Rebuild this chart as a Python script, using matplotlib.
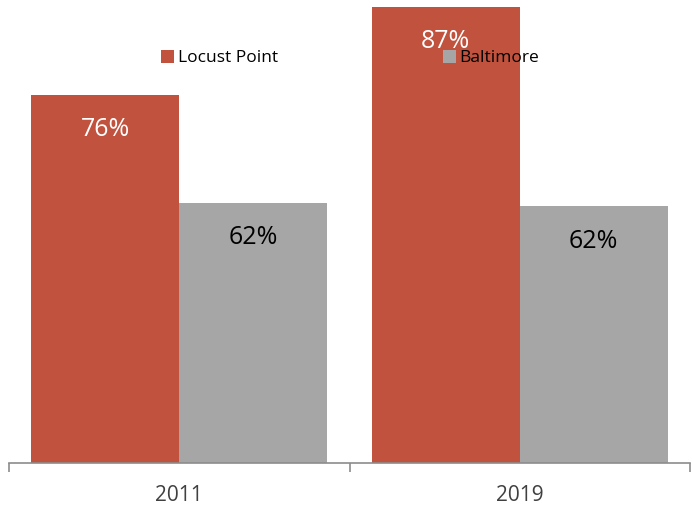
import matplotlib.pyplot as plt
import numpy as np

# data
years = ['2011', '2019']
series = ['Locust Point', 'Baltimore']
locust_point = [76.0, 87.0]
baltimore = [62.5, 62.1]

red = '#C0523E'
grey = '#A6A6A6'

plt.rcParams['font.family'] = ['Open Sans', 'DejaVu Sans']

fig = plt.figure(figsize=(6.92, 5.11), dpi=100)
ax = fig.add_axes([9 / 692, 48 / 511, 681 / 692, 463 / 511])

x = np.arange(len(years))
w = 0.435
b1 = ax.bar(x - w / 2, locust_point, w, color=red, label=series[0])
b2 = ax.bar(x + w / 2, baltimore, w, color=grey, label=series[1])

for rect, v in zip(b1, locust_point):
    ax.annotate(f'{v:.0f}%', (rect.get_x() + rect.get_width() / 2, v),
                xytext=(0, -25), textcoords='offset points',
                ha='center', va='center', fontsize=18, color='white')
for rect, v in zip(b2, baltimore):
    ax.annotate(f'{v:.0f}%', (rect.get_x() + rect.get_width() / 2, v),
                xytext=(0, -25), textcoords='offset points',
                ha='center', va='center', fontsize=18, color='black')

ax.set_xlim(-0.5, 1.5)
ax.set_ylim(30, 87.9)
ax.set_yticks([])
ax.set_xticks(x)
ax.set_xticklabels(years, fontsize=15, color='#404040')
ax.set_xticks([-0.5, 0.5, 1.5], minor=True)
ax.tick_params(axis='x', which='major', length=0, pad=16)
ax.tick_params(axis='x', which='minor', length=6.5, width=1.2, color='#8C8C8C')
for s in ['top', 'right', 'left']:
    ax.spines[s].set_visible(False)
ax.spines['bottom'].set_color('#8C8C8C')
ax.spines['bottom'].set_linewidth(1.2)

fig.legend(loc='center', bbox_to_anchor=(350 / 692, 1 - 58 / 511), ncol=2,
           frameon=False, fontsize=12.5, handlelength=0.75, handleheight=0.75,
           handletextpad=0.2, columnspacing=9.5)

fig.savefig('out.png', dpi=100)
